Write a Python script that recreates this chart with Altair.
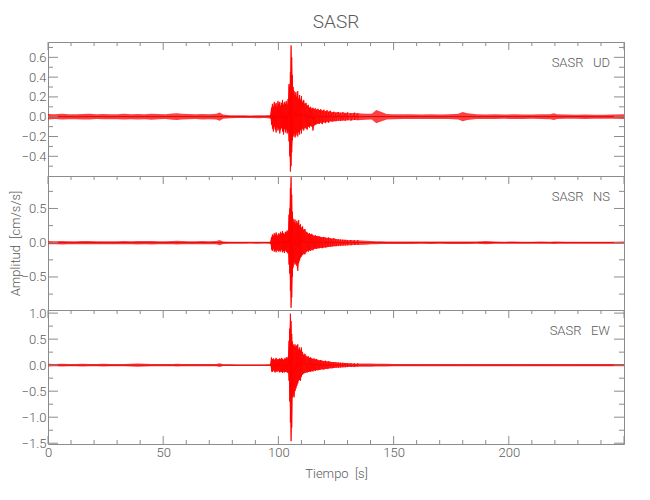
import altair as alt
import pandas as pd

# ---- time grid (s): quiet pre-event, event, coda/quiet ----
T_PRE = [0, 3, 6, 9, 12, 15, 18, 21, 24, 27,
         30, 33, 36, 39, 42, 45, 48, 51, 54, 56,
         58, 61, 64, 67, 70, 73, 74.5, 76, 79, 82,
         85, 88, 91, 94]
T_EVT = [96.5, 97.0, 97.4, 97.8, 98.2, 98.6, 99.0, 99.4, 99.8, 100.2,
         100.6, 101.0, 101.4, 101.8, 102.2, 102.6, 103.0, 103.4, 103.8, 104.2,
         104.6, 104.9, 105.2, 105.5, 105.8, 106.1, 106.4, 106.8, 107.2, 107.6,
         108.0, 108.4, 108.8, 109.2, 109.6, 110.0, 110.5, 111.0, 111.5, 112.0,
         112.5, 113.0, 113.5, 114.0, 114.5, 115.0, 115.5, 116.0, 116.6, 117.2,
         117.8, 118.4, 119.0, 119.7, 120.4, 121.1, 121.8, 122.5, 123.3, 124.1,
         125.0, 126.0, 127.0, 128.0, 129.0, 130.0, 131.5, 133.0, 134.5]
T_POST = [138, 140.5, 142.5, 144.5, 147, 150, 154, 158, 162,
          166, 170, 174, 178, 180, 182, 186, 190, 194, 198,
          202, 206, 210, 214, 218, 219.5, 221, 225, 229, 233,
          237, 241, 245, 250]

# ---- UD component: upper / lower envelope (cm/s/s) ----
UD_UP_PRE = [0.028, 0.025, 0.030, 0.026, 0.024, 0.028, 0.030, 0.025, 0.027, 0.024,
             0.026, 0.030, 0.025, 0.028, 0.026, 0.031, 0.027, 0.025, 0.032, 0.036,
             0.030, 0.027, 0.025, 0.028, 0.026, 0.030, 0.042, 0.022, 0.016, 0.014,
             0.015, 0.013, 0.016, 0.014]
UD_LO_PRE = [-0.027, -0.024, -0.029, -0.025, -0.026, -0.027, -0.028, -0.024, -0.026, -0.025,
             -0.025, -0.028, -0.026, -0.027, -0.025, -0.030, -0.026, -0.024, -0.030, -0.034,
             -0.029, -0.026, -0.024, -0.027, -0.025, -0.029, -0.040, -0.021, -0.015, -0.014,
             -0.014, -0.013, -0.015, -0.014]
UD_UP_EVT = [0.018, 0.09, 0.13, 0.10, 0.15, 0.12, 0.14, 0.10, 0.16, 0.13,
             0.15, 0.11, 0.14, 0.17, 0.12, 0.15, 0.13, 0.16, 0.12, 0.18,
             0.33, 0.30, 0.45, 0.72, 0.60, 0.42, 0.30, 0.26, 0.22, 0.25,
             0.20, 0.26, 0.18, 0.22, 0.17, 0.21, 0.15, 0.17, 0.13, 0.14,
             0.11, 0.12, 0.09, 0.10, 0.08, 0.09, 0.075, 0.085, 0.07, 0.08,
             0.065, 0.075, 0.06, 0.07, 0.055, 0.065, 0.05, 0.06, 0.045, 0.05,
             0.042, 0.048, 0.04, 0.045, 0.038, 0.042, 0.036, 0.04, 0.034]
UD_LO_EVT = [-0.017, -0.08, -0.12, -0.15, -0.10, -0.13, -0.16, -0.11, -0.14, -0.12,
             -0.17, -0.13, -0.11, -0.15, -0.18, -0.12, -0.16, -0.13, -0.17, -0.15,
             -0.25, -0.40, -0.555, -0.50, -0.36, -0.24, -0.20, -0.17, -0.21, -0.19,
             -0.16, -0.20, -0.15, -0.18, -0.13, -0.17, -0.12, -0.14, -0.11, -0.12,
             -0.13, -0.10, -0.11, -0.09, -0.10, -0.14, -0.09, -0.08, -0.075, -0.07,
             -0.07, -0.06, -0.075, -0.055, -0.065, -0.05, -0.06, -0.045, -0.05, -0.045,
             -0.045, -0.04, -0.042, -0.037, -0.04, -0.035, -0.038, -0.033, -0.035]
UD_UP_POST = [0.03, 0.03, 0.067, 0.05, 0.028, 0.026, 0.024, 0.025, 0.023,
              0.024, 0.022, 0.025, 0.03, 0.047, 0.035, 0.024, 0.023, 0.025, 0.022,
              0.024, 0.023, 0.022, 0.024, 0.026, 0.034, 0.025, 0.022, 0.021, 0.023,
              0.020, 0.021, 0.022, 0.024]
UD_LO_POST = [-0.03, -0.028, -0.065, -0.048, -0.027, -0.025, -0.024, -0.024, -0.022,
              -0.023, -0.022, -0.024, -0.029, -0.045, -0.033, -0.023, -0.022, -0.024, -0.021,
              -0.023, -0.022, -0.021, -0.023, -0.025, -0.032, -0.024, -0.021, -0.020, -0.022,
              -0.020, -0.021, -0.021, -0.023]

# ---- NS component ----
NS_UP_PRE = [0.024, 0.022, 0.026, 0.023, 0.021, 0.025, 0.024, 0.022, 0.023, 0.021,
             0.022, 0.025, 0.023, 0.026, 0.024, 0.027, 0.023, 0.022, 0.025, 0.028,
             0.025, 0.023, 0.022, 0.024, 0.022, 0.025, 0.040, 0.018, 0.015, 0.014,
             0.015, 0.013, 0.014, 0.013]
NS_LO_PRE = [-0.023, -0.021, -0.025, -0.022, -0.022, -0.024, -0.023, -0.021, -0.022, -0.022,
             -0.021, -0.024, -0.022, -0.025, -0.023, -0.026, -0.022, -0.021, -0.024, -0.027,
             -0.024, -0.022, -0.021, -0.023, -0.021, -0.024, -0.038, -0.017, -0.014, -0.014,
             -0.014, -0.013, -0.014, -0.013]
NS_UP_EVT = [0.016, 0.08, 0.12, 0.10, 0.14, 0.11, 0.15, 0.12, 0.10, 0.14,
             0.12, 0.16, 0.13, 0.17, 0.14, 0.12, 0.16, 0.15, 0.18, 0.16,
             0.41, 0.50, 0.80, 0.96, 0.70, 0.45, 0.35, 0.30, 0.34, 0.28,
             0.32, 0.28, 0.33, 0.25, 0.27, 0.22, 0.24, 0.19, 0.20, 0.16,
             0.15, 0.13, 0.14, 0.12, 0.13, 0.11, 0.10, 0.11, 0.095, 0.10,
             0.09, 0.085, 0.08, 0.085, 0.075, 0.07, 0.075, 0.065, 0.06, 0.065,
             0.055, 0.05, 0.048, 0.045, 0.042, 0.04, 0.038, 0.036, 0.035]
NS_LO_EVT = [-0.015, -0.10, -0.12, -0.09, -0.13, -0.11, -0.14, -0.10, -0.12, -0.13,
             -0.11, -0.13, -0.10, -0.14, -0.12, -0.15, -0.11, -0.13, -0.14, -0.16,
             -0.32, -0.45, -0.70, -0.95, -0.80, -0.50, -0.36, -0.28, -0.32, -0.30,
             -0.34, -0.41, -0.30, -0.26, -0.22, -0.20, -0.18, -0.16, -0.17, -0.14,
             -0.12, -0.13, -0.11, -0.12, -0.10, -0.11, -0.09, -0.085, -0.09, -0.08,
             -0.08, -0.075, -0.08, -0.07, -0.07, -0.065, -0.06, -0.06, -0.055, -0.05,
             -0.05, -0.048, -0.045, -0.042, -0.04, -0.038, -0.036, -0.034, -0.032]
NS_UP_POST = [0.03, 0.025, 0.022, 0.020, 0.019, 0.018, 0.017, 0.018, 0.017,
              0.018, 0.017, 0.018, 0.017, 0.019, 0.018, 0.017, 0.024, 0.017, 0.016,
              0.017, 0.016, 0.016, 0.017, 0.016, 0.018, 0.017, 0.016, 0.016, 0.015,
              0.016, 0.015, 0.016, 0.017]
NS_LO_POST = [-0.028, -0.024, -0.021, -0.020, -0.018, -0.018, -0.017, -0.017, -0.016,
              -0.017, -0.016, -0.017, -0.017, -0.018, -0.017, -0.016, -0.023, -0.016, -0.016,
              -0.016, -0.016, -0.015, -0.016, -0.016, -0.017, -0.016, -0.015, -0.016, -0.015,
              -0.015, -0.015, -0.016, -0.016]

# ---- EW component ----
EW_UP_PRE = [0.025, 0.023, 0.026, 0.024, 0.022, 0.025, 0.024, 0.023, 0.025, 0.022,
             0.024, 0.023, 0.025, 0.030, 0.026, 0.024, 0.023, 0.022, 0.024, 0.027,
             0.024, 0.023, 0.022, 0.024, 0.022, 0.024, 0.036, 0.018, 0.016, 0.015,
             0.015, 0.014, 0.015, 0.014]
EW_LO_PRE = [-0.024, -0.022, -0.025, -0.023, -0.023, -0.024, -0.023, -0.022, -0.024, -0.023,
             -0.023, -0.022, -0.024, -0.029, -0.025, -0.023, -0.022, -0.021, -0.023, -0.026,
             -0.023, -0.022, -0.021, -0.023, -0.021, -0.023, -0.034, -0.017, -0.015, -0.015,
             -0.015, -0.014, -0.015, -0.014]
EW_UP_EVT = [0.017, 0.15, 0.11, 0.13, 0.10, 0.12, 0.14, 0.10, 0.12, 0.11,
             0.13, 0.11, 0.14, 0.12, 0.10, 0.13, 0.12, 0.15, 0.13, 0.16,
             0.47, 0.70, 0.99, 0.85, 0.60, 0.45, 0.40, 0.36, 0.40, 0.35,
             0.38, 0.40, 0.30, 0.34, 0.28, 0.34, 0.25, 0.20, 0.22, 0.18,
             0.16, 0.17, 0.14, 0.15, 0.13, 0.12, 0.13, 0.11, 0.12, 0.10,
             0.09, 0.10, 0.085, 0.08, 0.085, 0.07, 0.075, 0.065, 0.06, 0.06,
             0.055, 0.05, 0.048, 0.045, 0.042, 0.04, 0.036, 0.034, 0.032]
EW_LO_EVT = [-0.016, -0.12, -0.13, -0.10, -0.12, -0.14, -0.11, -0.13, -0.10, -0.12,
             -0.14, -0.12, -0.13, -0.15, -0.12, -0.14, -0.13, -0.12, -0.14, -0.15,
             -0.30, -0.70, -1.10, -1.46, -1.20, -0.62, -0.58, -0.62, -0.50, -0.45,
             -0.40, -0.35, -0.30, -0.28, -0.30, -0.22, -0.18, -0.16, -0.15, -0.14,
             -0.14, -0.13, -0.12, -0.13, -0.11, -0.12, -0.10, -0.11, -0.095, -0.10,
             -0.09, -0.085, -0.08, -0.085, -0.07, -0.075, -0.065, -0.06, -0.06, -0.055,
             -0.05, -0.048, -0.045, -0.042, -0.04, -0.037, -0.035, -0.033, -0.031]
EW_UP_POST = [0.032, 0.03, 0.028, 0.026, 0.025, 0.024, 0.023, 0.024, 0.022,
              0.023, 0.022, 0.023, 0.022, 0.024, 0.023, 0.022, 0.021, 0.022, 0.021,
              0.022, 0.021, 0.020, 0.022, 0.021, 0.022, 0.021, 0.020, 0.021, 0.020,
              0.021, 0.020, 0.021, 0.022]
EW_LO_POST = [-0.031, -0.029, -0.027, -0.025, -0.024, -0.023, -0.022, -0.023, -0.021,
              -0.022, -0.021, -0.022, -0.021, -0.023, -0.022, -0.021, -0.020, -0.021, -0.020,
              -0.021, -0.020, -0.019, -0.021, -0.020, -0.021, -0.020, -0.019, -0.020, -0.019,
              -0.020, -0.019, -0.020, -0.021]

# ---- axes / ticks ----
X_DOMAIN = [0, 250]
X_LABELS = [0, 50, 100, 150, 200]
X_MAJOR = [0, 50, 100, 150, 200, 250]
X_MINOR = [10, 20, 30, 40, 60, 70, 80, 90, 110, 120, 130, 140,
           160, 170, 180, 190, 210, 220, 230, 240]

UD_DOMAIN = [-0.599, 0.755]
UD_MAJOR = [-0.4, -0.2, 0.0, 0.2, 0.4, 0.6]
UD_MINOR = [-0.5, -0.3, -0.1, 0.1, 0.3, 0.5, 0.7]

NS_DOMAIN = [-0.982, 0.974]
NS_MAJOR = [-0.5, 0.0, 0.5]
NS_MINOR = [-0.75, -0.25, 0.25, 0.75]

EW_DOMAIN = [-1.515, 1.06]
EW_MAJOR = [-1.5, -1.0, -0.5, 0.0, 0.5, 1.0]
EW_MINOR = [-1.25, -0.75, -0.25, 0.25, 0.75]

PANEL_LABELS = ["SASR\u00a0\u00a0\u00a0UD", "SASR\u00a0\u00a0\u00a0NS", "SASR\u00a0\u00a0\u00a0EW"]
TITLE = "SASR"
X_TITLE = "Tiempo\u00a0\u00a0[s]"
Y_TITLE = "Amplitud\u00a0\u00a0[cm/s/s]"

FONT = "Roboto"
TXT = "#5a5a5a"
FRAME = "#8c8c8c"
RED = "#ff0000"
W, H = 576, 134


def panel(pre, evt, post, dom, ymaj, ymin, label, bottom=False, ytitle="", title=None):
    times = T_PRE + T_EVT + T_POST
    up = pre[0] + evt[0] + post[0]
    lo = pre[1] + evt[1] + post[1]
    df = pd.DataFrame({"t": times, "up": up, "lo": lo})
    # event samples visited upper-lower-upper-... to draw the oscillating trace
    zz = pd.DataFrame({
        "t": [t for t in T_EVT for _ in (0, 1)],
        "up": [v for pair in zip(evt[0], evt[1]) for v in pair],
    })
    zz["k"] = range(len(zz))

    xs = alt.Scale(domain=X_DOMAIN, nice=False, zero=False)
    ys = alt.Scale(domain=dom, nice=False, zero=False)

    yaxis_kw = dict(values=ymaj, format=".1f", ticks=False, domain=False, grid=False,
                    labelPadding=2, labelFlush=False, labelOverlap=False, title=ytitle)
    if ytitle:
        yaxis_kw.update(titleX=-33, titleY=H / 2, titleBaseline="middle", titleAlign="center")
    yax = alt.Axis(**yaxis_kw)
    if bottom:
        xax = alt.Axis(values=X_LABELS, ticks=False, domain=False, grid=False, labelPadding=2,
                       labelFlush=False, title=X_TITLE, titlePadding=8)
    else:
        xax = None

    def X(field):
        return alt.X(field, scale=xs, axis=xax)

    def Y(field):
        return alt.Y(field, scale=ys, axis=yax)

    area = alt.Chart(df).mark_area(color=RED, opacity=0.75, strokeWidth=0).encode(
        x=X("t:Q"), y=Y("up:Q"), y2="lo:Q",
    )
    center = alt.Chart(df).transform_calculate(mid="(datum.up + datum.lo) / 2").mark_line(
        color="#d00000", strokeWidth=0.9
    ).encode(x=X("t:Q"), y=Y("mid:Q"))
    trace = alt.Chart(zz).mark_line(color=RED, strokeWidth=0.8).encode(
        x=X("t:Q"), y=Y("up:Q"), order="k:Q",
    )
    layers = [area, center, trace]

    def yticks(vals, ln):
        d = pd.DataFrame({"up": vals})
        b = alt.Chart(d).mark_rule(color=FRAME, strokeWidth=1)
        return [
            b.encode(y=Y("up:Q"), x=alt.value(0), x2=alt.value(ln)),
            b.encode(y=Y("up:Q"), x=alt.value(W), x2=alt.value(W - ln)),
        ]

    def xticks(vals, ln):
        d = pd.DataFrame({"t": vals})
        b = alt.Chart(d).mark_rule(color=FRAME, strokeWidth=1)
        out = [b.encode(x=X("t:Q"), y=alt.value(0), y2=alt.value(ln))]
        if bottom:
            out.append(b.encode(x=X("t:Q"), y=alt.value(H), y2=alt.value(H - ln)))
        return out

    layers += yticks(ymaj, 10) + yticks(ymin, 5) + xticks(X_MAJOR, 8) + xticks(X_MINOR, 4)

    txt = alt.Chart(pd.DataFrame({"s": [label]})).mark_text(
        align="right", baseline="middle", font=FONT, fontSize=13, fontWeight=300, color=TXT
    ).encode(text="s:N", x=alt.value(562), y=alt.value(21))
    layers.append(txt)

    props = dict(width=W, height=H)
    if title:
        props["title"] = alt.TitleParams(title, font=FONT, fontSize=19, fontWeight=300,
                                         color=TXT, anchor="middle", frame="group", offset=10)
    return alt.layer(*layers).properties(**props)


top = panel((UD_UP_PRE, UD_LO_PRE), (UD_UP_EVT, UD_LO_EVT), (UD_UP_POST, UD_LO_POST),
            UD_DOMAIN, UD_MAJOR, UD_MINOR, PANEL_LABELS[0], title=TITLE)
mid = panel((NS_UP_PRE, NS_LO_PRE), (NS_UP_EVT, NS_LO_EVT), (NS_UP_POST, NS_LO_POST),
            NS_DOMAIN, NS_MAJOR, NS_MINOR, PANEL_LABELS[1], ytitle=Y_TITLE)
bot = panel((EW_UP_PRE, EW_LO_PRE), (EW_UP_EVT, EW_LO_EVT), (EW_UP_POST, EW_LO_POST),
            EW_DOMAIN, EW_MAJOR, EW_MINOR, PANEL_LABELS[2], bottom=True)

chart = alt.vconcat(top, mid, bot, spacing=0, bounds="flush").properties(
    padding={"left": 0, "top": 4, "right": 5, "bottom": 5}
).configure_view(stroke=FRAME, strokeWidth=1).configure_axis(
    labelFont=FONT, labelColor=TXT, labelFontSize=13, labelFontWeight=300,
    titleFont=FONT, titleColor=TXT, titleFontSize=13, titleFontWeight=300
)

chart.save("out.html", embed_options={"renderer": "svg", "actions": False})
